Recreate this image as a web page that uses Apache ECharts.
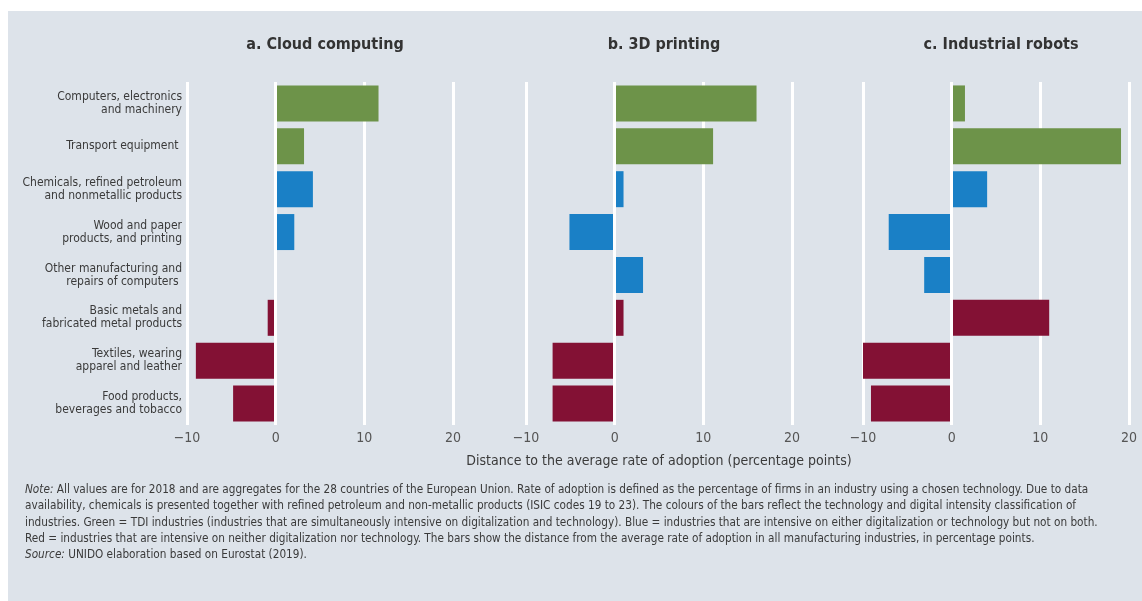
<!DOCTYPE html>
<html>
<head>
<meta charset="utf-8">
<script src="https://cdn.jsdelivr.net/npm/echarts@6/dist/echarts.min.js"></script>
<style>
  html, body { margin: 0; padding: 0; background: #ffffff; }
  #panel { position: absolute; left: 8px; top: 11px; width: 1134px; height: 590px; background: #dde3ea; }
  #main { position: absolute; left: 0; top: 0; width: 1142px; height: 601px; }
</style>
</head>
<body>
<div id="panel"></div>
<div id="main"></div>
<script>
// industries, top to bottom
var categories = [
  'Computers, electronics\nand machinery',
  'Transport equipment ',
  'Chemicals, refined petroleum\nand nonmetallic products',
  'Wood and paper\nproducts, and printing',
  'Other manufacturing and\nrepairs of computers ',
  'Basic metals and\nfabricated metal products',
  'Textiles, wearing\napparel and leather',
  'Food products,\nbeverages and tobacco'
];
// technology / digital intensity group of each industry
var groups = ['green', 'green', 'blue', 'blue', 'blue', 'red', 'red', 'red'];

// distance to the average rate of adoption (percentage points)
var cloudComputing = [11.6, 3.2, 4.2, 2.1, 0, -0.9, -9.0, -4.8];
var printing3d = [16.0, 11.1, 1.0, -5.1, 3.2, 1.0, -7.0, -7.0];
var industrialRobots = [1.5, 19.1, 4.0, -7.1, -3.1, 11.0, -10.1, -9.1];

var panelTitles = ['a. Cloud computing', 'b. 3D printing', 'c. Industrial robots'];
var xTicks = [-10, 0, 10, 20];
var axisName = 'Distance to the average rate of adoption (percentage points)';

var groupColors = { green: '#6d9349', blue: '#1a80c6', red: '#831134' };
var narrow = "'Liberation Sans Narrow', 'DejaVu Sans Condensed', 'Roboto Condensed', sans-serif";

var chart = echarts.init(document.getElementById('main'), null, { renderer: 'canvas' });

var panels = [cloudComputing, printing3d, industrialRobots];
var lefts = [187, 526, 863];
var plotW = 266;

function barData(values) {
  return values.map(function (v, i) {
    return { value: v, itemStyle: { color: groupColors[groups[i]] } };
  });
}

var grids = [], xAxes = [], yAxes = [], series = [], titles = [];
panels.forEach(function (vals, k) {
  grids.push({ left: lefts[k], top: 82, width: plotW, height: 343 });
  xAxes.push({
    type: 'value', gridIndex: k, min: xTicks[0], max: xTicks[xTicks.length - 1], interval: 10,
    axisLine: { show: false }, axisTick: { show: false },
    splitLine: { show: true, lineStyle: { color: '#ffffff', width: 3 } },
    axisLabel: {
      color: '#555555', fontSize: 14, fontFamily: narrow, margin: 6,
      formatter: function (v) { return v < 0 ? '\u2212' + Math.abs(v) : String(v); }
    },
    name: k === 1 ? axisName : '',
    nameLocation: 'middle', nameGap: 29,
    nameTextStyle: { color: '#3a3a3a', fontSize: 14, fontFamily: narrow }
  });
  yAxes.push({
    type: 'category', gridIndex: k, data: categories, inverse: true,
    axisLine: { show: false }, axisTick: { show: false }, splitLine: { show: false },
    axisLabel: {
      show: k === 0, color: '#3a3a3a', fontSize: 12, lineHeight: 13,
      fontFamily: narrow, margin: 5, align: 'right'
    }
  });
  series.push({
    type: 'bar', xAxisIndex: k, yAxisIndex: k, data: barData(vals),
    barWidth: 36, silent: true,
    markLine: {
      silent: true, symbol: 'none', label: { show: false },
      lineStyle: { color: '#ffffff', width: 3, type: 'solid' },
      data: [{ xAxis: 0 }]
    }
  });
  titles.push({
    text: panelTitles[k], left: lefts[k] + plotW / 2, top: 32, textAlign: 'center',
    textStyle: { color: '#333333', fontSize: 16, fontWeight: 'bold', fontFamily: narrow }
  });
});

var noteText =
  '{i|Note:} All values are for 2018 and are aggregates for the 28 countries of the European Union. Rate of adoption is defined as the percentage of firms in an industry using a chosen technology. Due to data\n' +
  'availability, chemicals is presented together with refined petroleum and non-metallic products (ISIC codes 19 to 23). The colours of the bars reflect the technology and digital intensity classification of\n' +
  'industries. Green = TDI industries (industries that are simultaneously intensive on digitalization and technology). Blue = industries that are intensive on either digitalization or technology but not on both.\n' +
  'Red = industries that are intensive on neither digitalization nor technology. The bars show the distance from the average rate of adoption in all manufacturing industries, in percentage points.\n' +
  '{i|Source:} UNIDO elaboration based on Eurostat (2019).';

var option = {
  backgroundColor: 'transparent',
  animation: false,
  title: titles,
  grid: grids,
  xAxis: xAxes,
  yAxis: yAxes,
  series: series,
  graphic: [{
    type: 'text', left: 25, top: 482, silent: true,
    style: {
      text: noteText, fill: '#3a3a3a', fontSize: 11.7, lineHeight: 16.3, fontFamily: narrow,
      rich: { i: { fontStyle: 'italic', fontSize: 11.7, fontFamily: narrow, fill: '#3a3a3a' } }
    }
  }]
};

chart.setOption(option);
</script>
</body>
</html>
